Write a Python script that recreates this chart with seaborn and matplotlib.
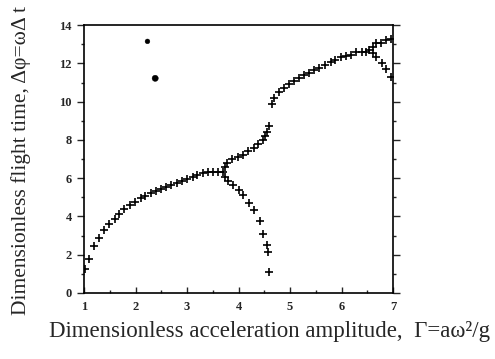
import matplotlib
matplotlib.use("Agg")
import matplotlib.pyplot as plt
import seaborn as sns
import pandas as pd
from matplotlib.ticker import MultipleLocator

# Main branch (period-1) up to first bifurcation
x_main = [1.02, 1.10, 1.20, 1.28, 1.38, 1.49, 1.59, 1.68, 1.78, 1.89, 1.99, 2.10, 2.19, 2.29,
          2.40, 2.50, 2.59, 2.69, 2.80, 2.90, 3.00, 3.11, 3.20, 3.30, 3.41, 3.51, 3.60, 3.70]
y_main = [1.27, 1.80, 2.43, 2.88, 3.29, 3.63, 3.88, 4.13, 4.39, 4.60, 4.77, 4.95, 5.09, 5.21,
          5.31, 5.42, 5.52, 5.63, 5.74, 5.86, 5.96, 6.08, 6.15, 6.26, 6.33, 6.33, 6.33, 6.33]
# Upper branch after first bifurcation
x_up1 = [3.74, 3.78, 3.87, 3.98, 4.08, 4.18, 4.29, 4.38, 4.47, 4.52, 4.56, 4.59]
y_up1 = [6.57, 6.78, 6.99, 7.10, 7.20, 7.41, 7.59, 7.76, 7.98, 8.19, 8.39, 8.74]
# Lower branch after first bifurcation
x_dn1 = [3.74, 3.80, 3.90, 4.00, 4.09, 4.20, 4.30, 4.41, 4.48, 4.56, 4.57, 4.60]
y_dn1 = [6.08, 5.84, 5.66, 5.39, 5.10, 4.72, 4.34, 3.78, 3.06, 2.50, 2.16, 1.11]
# Branch after jump
x_up2 = [4.64, 4.68, 4.78, 4.88, 4.97, 5.07, 5.17, 5.27, 5.36, 5.47, 5.57, 5.68, 5.79, 5.88,
         5.99, 6.08, 6.18, 6.29, 6.39, 6.48, 6.54]
y_up2 = [9.90, 10.18, 10.50, 10.72, 10.93, 11.10, 11.24, 11.38, 11.52, 11.66, 11.76, 11.90,
         12.06, 12.17, 12.31, 12.41, 12.45, 12.59, 12.62, 12.62, 12.69]
# Second bifurcation
x_up3 = [6.61, 6.67, 6.76, 6.87, 6.97]
y_up3 = [12.86, 13.04, 13.07, 13.21, 13.28]
x_dn3 = [6.61, 6.67, 6.78, 6.87, 6.97]
y_dn3 = [12.52, 12.35, 12.03, 11.69, 11.30]
# Isolated dots
x_dot = [2.23, 2.38]
y_dot = [13.15, 11.22]

x_ticks = [1, 2, 3, 4, 5, 6, 7]
y_ticks = [0, 2, 4, 6, 8, 10, 12, 14]

plus = pd.DataFrame({
    "x": x_main + x_up1 + x_dn1 + x_up2 + x_up3 + x_dn3,
    "y": y_main + y_up1 + y_dn1 + y_up2 + y_up3 + y_dn3,
})
dots = pd.DataFrame({"x": x_dot, "y": y_dot})

sns.set_style("ticks")
plt.rcParams["font.family"] = ["Liberation Serif", "DejaVu Serif"]

fig = plt.figure(figsize=(4.95, 3.59), dpi=100)
ax = fig.add_axes([0.170, 0.184, 0.624, 0.746])

sns.scatterplot(data=plus, x="x", y="y", marker="+", color="black", s=34,
                linewidth=1.2, ax=ax, legend=False)
sns.scatterplot(data=dots, x="x", y="y", marker="o", color="black", s=[12, 20],
                edgecolor="black", ax=ax, legend=False)

ax.set_xlim(1, 7)
ax.set_ylim(0, 14)
ax.set_xticks(x_ticks)
ax.set_yticks(y_ticks)
ax.set_xticklabels([str(t) for t in x_ticks], fontsize=9, fontweight="bold")
ax.set_yticklabels([str(t) for t in y_ticks], fontsize=9, fontweight="bold")
ax.xaxis.set_minor_locator(MultipleLocator(0.5))
ax.yaxis.set_minor_locator(MultipleLocator(1))
ax.tick_params(axis="x", which="both", direction="in", length=4, width=1, pad=6, top=False)
ax.tick_params(axis="x", which="minor", length=2)
ax.tick_params(axis="y", which="both", direction="out", length=5, width=1, pad=4, right=True)
ax.tick_params(axis="y", which="minor", length=2)
for s in ax.spines.values():
    s.set_visible(True)
    s.set_linewidth(1.2)
    s.set_color("black")

ax.set_xlabel("Dimensionless acceleration amplitude,  Γ=aω²/g", fontsize=16.5)
ax.set_ylabel("Dimensionless flight time, Δφ=ωΔ t", fontsize=15.5)
ax.xaxis.set_label_coords(0.600, -0.105)
ax.yaxis.set_label_coords(-0.172, 0.496)

fig.savefig("out.png", dpi=100)
